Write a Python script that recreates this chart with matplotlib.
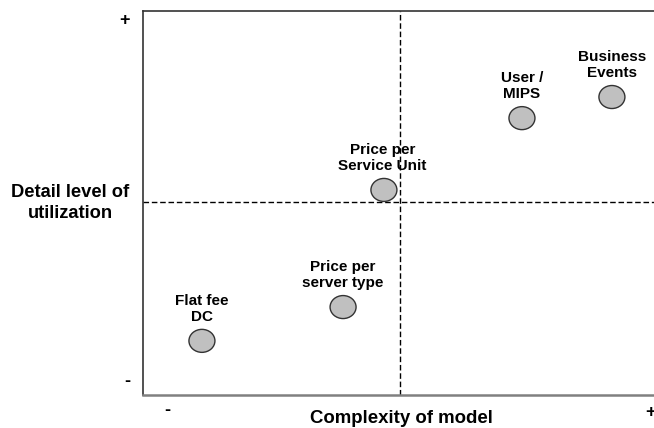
import matplotlib.pyplot as plt
from matplotlib.patches import Ellipse

plt.rcParams['font.family'] = ['Liberation Sans', 'DejaVu Sans']

# pricing models: name, complexity (x), detail level (y)
models = ["Flat fee\nDC", "Price per\nserver type", "Price per\nService Unit",
          "User /\nMIPS", "Business\nEvents"]
complexity = [11.4, 38.7, 46.6, 73.3, 90.7]
detail = [14.1, 22.9, 53.4, 72.1, 77.6]
label_dx = [0, 0, -1, 0, 0]   # small horizontal nudges for labels (points)

x_split = 49.7
y_split = 50.3

fig = plt.figure(figsize=(6.54, 4.28), dpi=100)
ax = fig.add_axes([143 / 654, 33 / 428, 517 / 654, 384 / 428])
ax.set_xlim(0, 100)
ax.set_ylim(0, 100)
ax.set_xticks([])
ax.set_yticks([])

ax.spines['right'].set_visible(False)
ax.spines['top'].set_color('#333333')
ax.spines['left'].set_color('#333333')
ax.spines['top'].set_linewidth(1.2)
ax.spines['left'].set_linewidth(1.2)
ax.spines['bottom'].set_color('#808080')
ax.spines['bottom'].set_linewidth(1.8)

# quadrant dividers
ax.axvline(x_split, color='black', lw=1, ls=(0, (4, 2)))
ax.axhline(y_split, color='black', lw=1, ls=(0, (4, 2)))

for name, x, y, dx in zip(models, complexity, detail, label_dx):
    ax.add_patch(Ellipse((x, y), 26 / 517 * 100, 23 / 384 * 100,
                         facecolor='#c0c0c0', edgecolor='#333333', lw=1, zorder=3))
    ax.annotate(name, (x, y), xytext=(dx, 12), textcoords='offset points',
                ha='center', va='bottom', fontsize=11, fontweight='bold',
                linespacing=1.22)

ax.text(-0.14, 0.5, "Detail level of\nutilization", transform=ax.transAxes,
        ha='center', va='center', fontsize=13.2, fontweight='bold', linespacing=1.3)
ax.text(0.499, -0.06, "Complexity of model", transform=ax.transAxes,
        ha='center', va='center', fontsize=13.4, fontweight='bold')

# +/- markers on the axes ends
ax.text(-0.035, 0.975, "+", transform=ax.transAxes, ha='center', va='center',
        fontsize=13, fontweight='bold')
ax.text(-0.031, 0.034, "-", transform=ax.transAxes, ha='center', va='center',
        fontsize=13, fontweight='bold')
ax.text(0.047, -0.04, "-", transform=ax.transAxes, ha='center', va='center',
        fontsize=13, fontweight='bold')
ax.text(0.981, -0.045, "+", transform=ax.transAxes, ha='center', va='center',
        fontsize=13, fontweight='bold')

fig.savefig("out.png", dpi=100)
